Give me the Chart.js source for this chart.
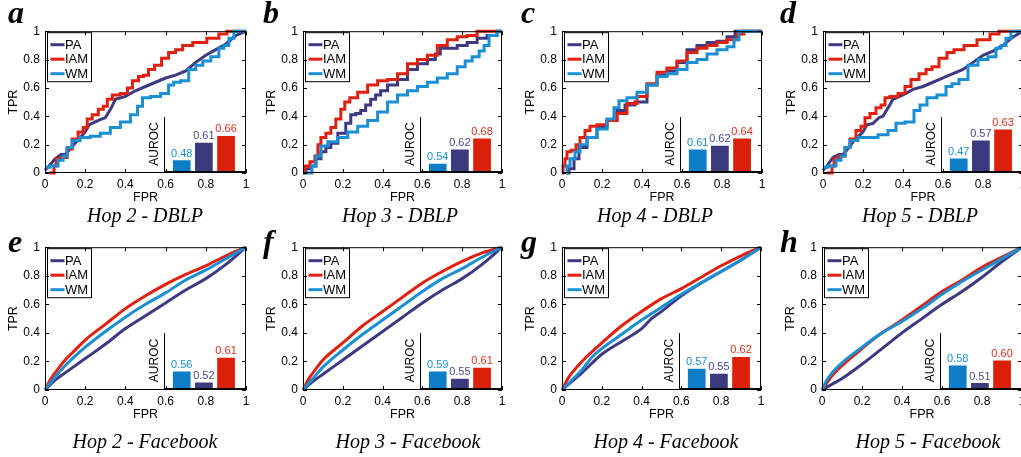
<!DOCTYPE html>
<html>
<head>
<meta charset="utf-8">
<script src="https://cdn.jsdelivr.net/npm/chart.js@4.4.0/dist/chart.umd.min.js"></script>
<style>
html, body { margin: 0; padding: 0; background: #fff; }
#wrap { position: relative; width: 1021px; height: 457px; overflow: hidden; background: #fff; }
#wrap canvas { position: absolute; }
.letter { position: absolute; font-family: "Liberation Serif", serif; font-weight: bold; font-style: italic; font-size: 32px; line-height: 1; }
.title { position: absolute; width: 240px; text-align: center; font-family: "Liberation Serif", serif; font-style: italic; font-size: 20px; line-height: 1; white-space: nowrap; }
</style>
</head>
<body>
<div id="wrap"></div>
<script>
// series names and tick labels
const seriesNames = ['PA', 'IAM', 'WM'];
const barNames = ['WM', 'PA', 'IAM'];
const fprTicks = [0, 0.2, 0.4, 0.6, 0.8, 1];
const tickLabels = ['0', '0.2', '0.4', '0.6', '0.8', '1'];

// ROC curves [FPR, TPR] - DBLP
const dblp2PA = [[0,0.02],[0.02,0.05],[0.05,0.1],[0.08,0.13],[0.1,0.13],[0.12,0.16],[0.15,0.21],[0.2,0.29],[0.22,0.34],[0.25,0.36],[0.28,0.38],[0.3,0.39],[0.33,0.46],[0.35,0.52],[0.4,0.54],[0.45,0.58],[0.5,0.61],[0.55,0.64],[0.6,0.67],[0.65,0.69],[0.7,0.72],[0.75,0.78],[0.8,0.83],[0.85,0.87],[0.9,0.91],[0.95,0.97],[1,1]];
const dblp2IAM = [[0.02,0],[0.04,0],[0.05,0.05],[0.06,0.1],[0.1,0.11],[0.12,0.17],[0.15,0.24],[0.18,0.29],[0.2,0.32],[0.22,0.38],[0.25,0.41],[0.28,0.45],[0.3,0.47],[0.32,0.52],[0.35,0.55],[0.4,0.56],[0.42,0.6],[0.45,0.65],[0.48,0.68],[0.5,0.69],[0.53,0.73],[0.56,0.76],[0.6,0.81],[0.63,0.85],[0.67,0.87],[0.7,0.9],[0.77,0.92],[0.84,0.95],[0.89,0.98],[0.92,1],[1,1]];
const dblp2WM = [[0,0.04],[0.05,0.05],[0.08,0.09],[0.1,0.12],[0.12,0.18],[0.15,0.23],[0.2,0.25],[0.25,0.26],[0.3,0.28],[0.35,0.32],[0.4,0.36],[0.45,0.41],[0.47,0.47],[0.5,0.53],[0.55,0.54],[0.6,0.56],[0.63,0.62],[0.65,0.64],[0.7,0.65],[0.73,0.73],[0.77,0.76],[0.8,0.79],[0.85,0.82],[0.88,0.88],[0.9,0.9],[0.93,0.95],[0.95,1],[1,1]];

const dblp3PA = [[0,0.02],[0.03,0.03],[0.05,0.05],[0.08,0.1],[0.1,0.15],[0.13,0.18],[0.15,0.21],[0.2,0.28],[0.23,0.35],[0.25,0.41],[0.28,0.42],[0.3,0.44],[0.33,0.48],[0.35,0.52],[0.38,0.55],[0.4,0.58],[0.45,0.62],[0.5,0.66],[0.55,0.73],[0.6,0.77],[0.65,0.8],[0.68,0.84],[0.7,0.88],[0.75,0.88],[0.8,0.9],[0.85,0.92],[0.9,0.95],[0.95,0.97],[1,1]];
const dblp3IAM = [[0,0],[0.02,0.05],[0.05,0.08],[0.07,0.12],[0.08,0.2],[0.1,0.25],[0.13,0.28],[0.15,0.32],[0.18,0.38],[0.2,0.45],[0.22,0.5],[0.25,0.53],[0.3,0.57],[0.35,0.62],[0.4,0.65],[0.45,0.66],[0.5,0.7],[0.55,0.77],[0.6,0.8],[0.65,0.83],[0.7,0.9],[0.75,0.94],[0.8,0.96],[0.85,0.97],[0.9,1],[1,1]];
const dblp3WM = [[0,0],[0.04,0],[0.05,0.05],[0.08,0.12],[0.1,0.19],[0.15,0.22],[0.2,0.25],[0.25,0.29],[0.3,0.33],[0.35,0.37],[0.4,0.43],[0.45,0.5],[0.5,0.55],[0.55,0.58],[0.6,0.61],[0.65,0.64],[0.7,0.67],[0.75,0.7],[0.8,0.75],[0.83,0.79],[0.87,0.82],[0.9,0.86],[0.92,0.9],[0.95,0.97],[1,1]];

const dblp4PA = [[0.02,0],[0.05,0.03],[0.07,0.1],[0.1,0.18],[0.15,0.25],[0.2,0.32],[0.25,0.37],[0.3,0.44],[0.33,0.48],[0.4,0.5],[0.45,0.62],[0.5,0.69],[0.55,0.72],[0.6,0.78],[0.65,0.87],[0.7,0.9],[0.75,0.92],[0.8,0.93],[0.85,0.96],[0.88,1],[1,1]];
const dblp4IAM = [[0,0],[0.01,0.05],[0.02,0.1],[0.03,0.15],[0.06,0.16],[0.08,0.2],[0.1,0.25],[0.13,0.3],[0.15,0.33],[0.2,0.34],[0.25,0.37],[0.3,0.42],[0.35,0.49],[0.4,0.54],[0.45,0.63],[0.5,0.71],[0.55,0.74],[0.6,0.79],[0.65,0.85],[0.7,0.88],[0.75,0.9],[0.8,0.92],[0.85,0.94],[0.9,0.98],[0.92,1],[1,1]];
const dblp4WM = [[0.02,0],[0.03,0.05],[0.05,0.1],[0.08,0.15],[0.1,0.2],[0.15,0.25],[0.2,0.31],[0.25,0.38],[0.27,0.46],[0.3,0.51],[0.35,0.53],[0.4,0.57],[0.45,0.62],[0.5,0.68],[0.55,0.7],[0.6,0.73],[0.65,0.78],[0.7,0.8],[0.75,0.84],[0.8,0.87],[0.85,0.89],[0.87,0.94],[0.9,1],[1,1]];

const dblp5PA = [[0,0.02],[0.02,0.05],[0.05,0.11],[0.08,0.13],[0.1,0.13],[0.13,0.18],[0.15,0.22],[0.2,0.29],[0.22,0.34],[0.25,0.35],[0.28,0.39],[0.3,0.4],[0.33,0.47],[0.35,0.52],[0.4,0.55],[0.45,0.59],[0.5,0.61],[0.55,0.64],[0.6,0.67],[0.65,0.7],[0.7,0.73],[0.75,0.78],[0.8,0.83],[0.85,0.86],[0.9,0.9],[0.95,0.96],[1,1]];
const dblp5IAM = [[0.02,0],[0.04,0],[0.05,0.05],[0.06,0.1],[0.1,0.12],[0.12,0.18],[0.15,0.24],[0.18,0.3],[0.2,0.33],[0.22,0.39],[0.25,0.42],[0.28,0.46],[0.3,0.48],[0.32,0.53],[0.35,0.54],[0.4,0.56],[0.42,0.61],[0.46,0.66],[0.5,0.7],[0.53,0.73],[0.56,0.75],[0.6,0.81],[0.64,0.85],[0.67,0.87],[0.74,0.9],[0.8,0.94],[0.87,0.98],[0.89,1],[1,1]];
const dblp5WM = [[0,0.04],[0.05,0.05],[0.08,0.09],[0.1,0.12],[0.12,0.18],[0.15,0.23],[0.2,0.25],[0.25,0.25],[0.3,0.27],[0.35,0.3],[0.38,0.35],[0.44,0.36],[0.47,0.44],[0.5,0.48],[0.54,0.53],[0.6,0.55],[0.63,0.61],[0.66,0.63],[0.7,0.66],[0.75,0.76],[0.8,0.8],[0.85,0.82],[0.88,0.88],[0.9,0.9],[0.93,0.95],[0.95,1],[1,1]];

// ROC curves [FPR, TPR] - Facebook
const fb2PA = [[0,0],[0.05,0.07],[0.1,0.12],[0.2,0.22],[0.3,0.32],[0.4,0.43],[0.5,0.52],[0.6,0.61],[0.7,0.7],[0.8,0.78],[0.9,0.88],[1,1]];
const fb2IAM = [[0,0],[0.03,0.08],[0.05,0.12],[0.1,0.21],[0.15,0.28],[0.2,0.35],[0.3,0.46],[0.4,0.57],[0.5,0.66],[0.6,0.74],[0.7,0.81],[0.8,0.87],[0.9,0.94],[1,1]];
const fb2WM = [[0,0],[0.05,0.09],[0.1,0.17],[0.2,0.3],[0.3,0.41],[0.4,0.51],[0.5,0.6],[0.6,0.68],[0.7,0.77],[0.8,0.84],[0.9,0.92],[1,1]];

const fb3PA = [[0,0],[0.05,0.06],[0.1,0.11],[0.2,0.21],[0.3,0.31],[0.4,0.41],[0.5,0.51],[0.6,0.61],[0.7,0.7],[0.8,0.78],[0.9,0.88],[1,1]];
const fb3IAM = [[0,0],[0.03,0.08],[0.05,0.12],[0.1,0.21],[0.2,0.33],[0.3,0.45],[0.4,0.55],[0.5,0.65],[0.6,0.75],[0.7,0.83],[0.8,0.9],[0.9,0.96],[1,1]];
const fb3WM = [[0,0],[0.05,0.08],[0.1,0.16],[0.2,0.28],[0.3,0.39],[0.4,0.49],[0.5,0.59],[0.6,0.69],[0.7,0.78],[0.8,0.85],[0.9,0.93],[1,1]];

const fb4PA = [[0,0],[0.05,0.06],[0.1,0.12],[0.2,0.25],[0.3,0.34],[0.4,0.43],[0.45,0.5],[0.5,0.55],[0.6,0.66],[0.7,0.75],[0.8,0.83],[0.9,0.91],[1,1]];
const fb4IAM = [[0,0],[0.03,0.08],[0.05,0.12],[0.1,0.2],[0.2,0.33],[0.3,0.45],[0.4,0.55],[0.5,0.64],[0.6,0.71],[0.7,0.79],[0.8,0.87],[0.9,0.94],[1,1]];
const fb4WM = [[0,0],[0.05,0.07],[0.1,0.14],[0.15,0.23],[0.2,0.29],[0.3,0.39],[0.4,0.49],[0.5,0.58],[0.6,0.67],[0.7,0.75],[0.8,0.83],[0.9,0.91],[1,1]];

const fb5PA = [[0,0],[0.05,0.04],[0.1,0.08],[0.2,0.18],[0.3,0.29],[0.4,0.4],[0.5,0.5],[0.6,0.6],[0.7,0.69],[0.8,0.79],[0.9,0.9],[1,1]];
const fb5IAM = [[0,0],[0.05,0.1],[0.1,0.17],[0.2,0.29],[0.3,0.4],[0.4,0.49],[0.5,0.59],[0.6,0.69],[0.7,0.77],[0.8,0.86],[0.9,0.93],[1,1]];
const fb5WM = [[0,0],[0.02,0.06],[0.05,0.12],[0.1,0.19],[0.2,0.3],[0.3,0.4],[0.4,0.48],[0.5,0.57],[0.6,0.67],[0.7,0.76],[0.8,0.84],[0.9,0.92],[1,1]];

// AUROC insets, order WM, PA, IAM
const aurocDblp2 = [0.48, 0.61, 0.66];
const aurocDblp3 = [0.54, 0.62, 0.68];
const aurocDblp4 = [0.61, 0.62, 0.64];
const aurocDblp5 = [0.47, 0.57, 0.63];
const aurocFb2 = [0.56, 0.52, 0.61];
const aurocFb3 = [0.59, 0.55, 0.61];
const aurocFb4 = [0.57, 0.55, 0.62];
const aurocFb5 = [0.58, 0.51, 0.60];

const lineColors = ['#3d3a82', '#e2200f', '#1b8fd3'];   // PA, IAM, WM
const barColors = ['#0d7dc8', '#3b3a7e', '#dc1f08'];    // WM, PA, IAM
const barTextColors = ['#1a8fd2', '#4a4890', '#e0301a'];

const panels = [
  { letter: 'a', title: 'Hop 2 - DBLP', box: [45, 29, 246, 173], tx: 145, curves: [dblp2PA, dblp2IAM, dblp2WM], auroc: aurocDblp2, range: [0.4, 0.8], step: [false, true, true] },
  { letter: 'b', title: 'Hop 3 - DBLP', box: [303, 29, 502, 173], tx: 400, curves: [dblp3PA, dblp3IAM, dblp3WM], auroc: aurocDblp3, range: [0.5, 0.8], step: [true, true, true] },
  { letter: 'c', title: 'Hop 4 - DBLP', box: [562, 29, 762, 173], tx: 655, curves: [dblp4PA, dblp4IAM, dblp4WM], auroc: aurocDblp4, range: [0.55, 0.7], step: [true, true, true] },
  { letter: 'd', title: 'Hop 5 - DBLP', box: [823, 29, 1023, 173], tx: 920, curves: [dblp5PA, dblp5IAM, dblp5WM], auroc: aurocDblp5, range: [0.4, 0.7], step: [false, true, true] },
  { letter: 'e', title: 'Hop 2 - Facebook', box: [45, 245, 246, 390], tx: 145, curves: [fb2PA, fb2IAM, fb2WM], auroc: aurocFb2, range: [0.5, 0.7], smooth: true },
  { letter: 'f', title: 'Hop 3 - Facebook', box: [303, 245, 502, 390], tx: 408, curves: [fb3PA, fb3IAM, fb3WM], auroc: aurocFb3, range: [0.5, 0.8], smooth: true },
  { letter: 'g', title: 'Hop 4 - Facebook', box: [562, 245, 761, 390], tx: 666, curves: [fb4PA, fb4IAM, fb4WM], auroc: aurocFb4, range: [0.49, 0.72], smooth: true },
  { letter: 'h', title: 'Hop 5 - Facebook', box: [822, 245, 1022, 390], tx: 928, curves: [fb5PA, fb5IAM, fb5WM], auroc: aurocFb5, range: [0.49, 0.71], smooth: true }
];

Chart.defaults.font.family = '"Liberation Sans", Arial, sans-serif';
Chart.defaults.color = '#000';

const wrap = document.getElementById('wrap');

function addCanvas(left, top, w, h) {
  const cv = document.createElement('canvas');
  cv.width = w; cv.height = h;
  cv.style.left = left + 'px'; cv.style.top = top + 'px';
  cv.style.width = w + 'px'; cv.style.height = h + 'px';
  wrap.appendChild(cv);
  return cv;
}

// box round the plot plus inward ticks on all four sides
const framePlugin = {
  id: 'frame',
  afterDraw(chart) {
    const { ctx, chartArea: a, scales } = chart;
    ctx.save();
    ctx.strokeStyle = '#000';
    ctx.lineWidth = 1;
    ctx.strokeRect(a.left + 0.5, a.top + 0.5, a.right - a.left - 1, a.bottom - a.top - 1);
    ctx.beginPath();
    scales.x.ticks.forEach(t => {
      const px = Math.round(scales.x.getPixelForValue(t.value)) + 0.5;
      ctx.moveTo(px, a.bottom); ctx.lineTo(px, a.bottom - 4);
      ctx.moveTo(px, a.top); ctx.lineTo(px, a.top + 4);
    });
    scales.y.ticks.forEach(t => {
      const py = Math.round(scales.y.getPixelForValue(t.value)) + 0.5;
      ctx.moveTo(a.left, py); ctx.lineTo(a.left + 4, py);
      ctx.moveTo(a.right, py); ctx.lineTo(a.right - 4, py);
    });
    ctx.stroke();
    ctx.restore();
  }
};

// boxed legend in the upper left corner
const boxLegend = {
  id: 'boxLegend',
  afterDatasetsDraw(chart) {
    const { ctx, chartArea: a } = chart;
    const bx = a.left + 2.5, by = a.top + 1.5;
    ctx.save();
    ctx.fillStyle = '#fff';
    ctx.fillRect(bx, by, 44, 49);
    ctx.strokeStyle = '#000';
    ctx.lineWidth = 1;
    ctx.strokeRect(bx, by, 44, 49);
    ctx.font = '13px "Liberation Sans"';
    ctx.textBaseline = 'middle';
    chart.data.datasets.forEach((ds, i) => {
      const y = by + 12 + 14.5 * i;
      ctx.strokeStyle = ds.borderColor;
      ctx.lineWidth = 3;
      ctx.beginPath();
      ctx.moveTo(bx + 3, y); ctx.lineTo(bx + 17, y);
      ctx.stroke();
      ctx.fillStyle = '#000';
      ctx.fillText(ds.label, bx + 17.5, y + 0.5);
    });
    ctx.restore();
  }
};

// numbers over the AUROC bars
const barValues = {
  id: 'barValues',
  afterDatasetsDraw(chart) {
    const { ctx } = chart;
    const meta = chart.getDatasetMeta(0);
    ctx.save();
    ctx.font = '11px "Liberation Sans"';
    ctx.textAlign = 'center';
    ctx.textBaseline = 'bottom';
    meta.data.forEach((bar, i) => {
      ctx.fillStyle = barTextColors[i];
      ctx.fillText(chart.data.datasets[0].data[i].y.toFixed(2), bar.x, bar.y - 1);
    });
    ctx.restore();
  }
};

function makeMain(p) {
  const [L, T, R, B] = p.box;
  const cv = addCanvas(L - 45, T - 10, R - L + 55, B - T + 45);
  new Chart(cv, {
    type: 'scatter',
    data: {
      datasets: p.curves.map((pts, i) => ({
        label: seriesNames[i],
        data: pts.map(([x, y]) => ({ x, y })),
        showLine: true,
        borderColor: lineColors[i],
        backgroundColor: lineColors[i],
        borderWidth: 3,
        pointRadius: 0,
        stepped: p.step && p.step[i] ? 'middle' : false,
        cubicInterpolationMode: p.smooth ? 'monotone' : 'default',
        order: 3 - i,
        clip: 4
      }))
    },
    options: {
      responsive: false,
      animation: false,
      events: [],
      layout: { padding: { left: 0, top: 10, right: 10, bottom: 0 } },
      plugins: { legend: { display: false }, tooltip: { enabled: false } },
      scales: {
        x: {
          type: 'linear', min: 0, max: 1,
          afterBuildTicks: s => { s.ticks = fprTicks.map(v => ({ value: v })); },
          ticks: { padding: 4, maxRotation: 0, font: { size: 12 }, callback: (v, i) => tickLabels[i] },
          grid: { display: false, drawTicks: false },
          border: { display: false },
          title: { display: true, text: 'FPR', font: { size: 12.5 }, padding: { top: 0, bottom: 3 } },
          afterFit: s => { s.height = 35; }
        },
        y: {
          type: 'linear', min: 0, max: 1,
          afterBuildTicks: s => { s.ticks = fprTicks.map(v => ({ value: v })); },
          ticks: { padding: 5, font: { size: 12 }, callback: (v, i) => tickLabels[i] },
          grid: { display: false, drawTicks: false },
          border: { display: false },
          title: { display: true, text: 'TPR', font: { size: 12.5 }, padding: { top: 6, bottom: 0 } },
          afterFit: s => { s.width = 45; }
        }
      }
    },
    plugins: [framePlugin, boxLegend]
  });
}

function makeInset(p) {
  const [L, T, R, B] = p.box;
  const il = Math.round(L + 0.59 * (R - L));
  const it = Math.round(T + 0.61 * (B - T));
  const ib = B - 2;
  const cv = addCanvas(il - 22, it - 4, R - il + 24, ib - it + 7);
  new Chart(cv, {
    type: 'bar',
    data: {
      datasets: [{
        label: 'AUROC',
        data: p.auroc.map((v, i) => ({ x: i + 1, y: v })),
        backgroundColor: barColors,
        borderWidth: 0,
        barPercentage: 0.8,
        categoryPercentage: 1
      }]
    },
    options: {
      responsive: false,
      animation: false,
      events: [],
      layout: { padding: { left: 0, top: 4, right: 2, bottom: 3 } },
      plugins: { legend: { display: false }, tooltip: { enabled: false } },
      scales: {
        x: {
          type: 'linear', min: 0.2, max: 3.9, offset: false,
          ticks: { display: false },
          grid: { display: false, drawTicks: false },
          border: { display: true, color: '#000', width: 1 },
          afterFit: s => { s.height = 0; }
        },
        y: {
          min: p.range[0], max: p.range[1],
          ticks: { display: false },
          grid: { display: false, drawTicks: false },
          border: { display: true, color: '#000', width: 1 },
          title: { display: true, text: 'AUROC', font: { size: 12 }, padding: { top: 5, bottom: 0 } },
          afterFit: s => { s.width = 22; }
        }
      }
    },
    plugins: [barValues]
  });
}

function addText(cls, txt, left, top) {
  const d = document.createElement('div');
  d.className = cls;
  d.textContent = txt;
  d.style.left = left + 'px';
  d.style.top = top + 'px';
  wrap.appendChild(d);
}

const letterX = [8, 263, 521, 780];
panels.forEach((p, i) => {
  makeMain(p);
  makeInset(p);
  const row = i < 4 ? 0 : 1;
  addText('letter', p.letter, letterX[i % 4], row === 0 ? -4 : 225);
  addText('title', p.title, p.tx - 120, row === 0 ? 205 : 431);
});
</script>
</body>
</html>
